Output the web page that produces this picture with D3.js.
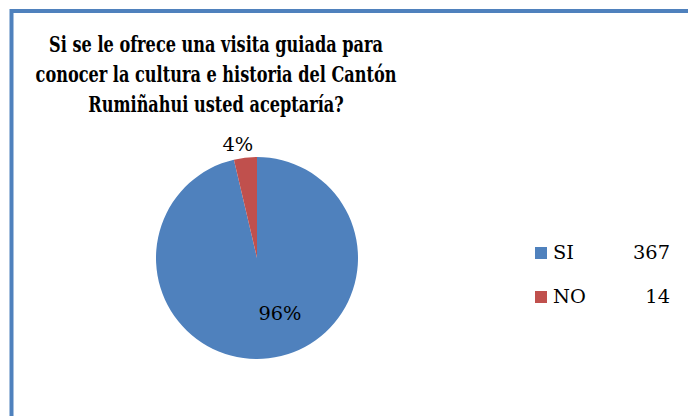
<!DOCTYPE html>
<html lang="es">
<head>
    <meta charset="UTF-8">
    <title>Visita guiada</title>
    <style>
        body {
            margin: 0;
            overflow: hidden;
            background: white;
        }
        text {
            font-family: 'DejaVu Serif', 'Liberation Serif', serif;
        }
    </style>
    <script src="https://d3js.org/d3.v7.min.js"></script>
</head>
<body>
    <div id="chart"></div>
    <script>
        const categories = ["SI", "NO"];
        const values = [367, 14];
        const percentLabels = ["96%", "4%"];
        const colors = ["#4F81BD", "#C0504D"];
        const titleLines = [
            "Si se le ofrece una visita guiada para",
            "conocer la cultura e historia del Cantón",
            "Rumiñahui usted aceptaría?"
        ];

        const width = 688, height = 416;
        const cx = 257, cy = 258, radius = 101;

        const svg = d3.select("#chart")
            .append("svg")
            .attr("width", width)
            .attr("height", height);

        // borde azul (solo arriba e izquierda visibles)
        svg.append("rect")
            .attr("x", 11.5)
            .attr("y", 11)
            .attr("width", width + 20)
            .attr("height", height + 20)
            .attr("fill", "white")
            .attr("stroke", "#4F81BD")
            .attr("stroke-width", 4);

        const tituloG = svg.append("g");

        const titulo = tituloG.selectAll(".titulo")
            .data(titleLines)
            .enter()
            .append("text")
            .attr("class", "titulo")
            .attr("x", 0)
            .attr("y", (d, i) => 52 + i * 30)
            .attr("text-anchor", "middle")
            .attr("font-weight", "bold")
            .attr("font-size", "23px")
            .attr("fill", "black")
            .text(d => d);

        // comprimir en horizontal para que la segunda línea mida ~361px
        const w2 = titulo.nodes()[1].getComputedTextLength();
        tituloG.attr("transform", `translate(216,0) scale(${361 / w2},1)`);

        const pie = d3.pie().sort(null).value(d => d);
        const arcs = pie(values);
        const arc = d3.arc().innerRadius(0).outerRadius(radius);

        const g = svg.append("g")
            .attr("transform", `translate(${cx},${cy})`);

        g.selectAll(".slice")
            .data(arcs)
            .enter()
            .append("path")
            .attr("class", "slice")
            .attr("d", arc)
            .attr("fill", (d, i) => colors[i]);

        // etiquetas: dentro para SI, fuera para NO
        const insideArc = d3.arc().innerRadius(radius * 0.6).outerRadius(radius * 0.6);
        const outsideArc = d3.arc().innerRadius(radius + 14).outerRadius(radius + 14);

        const etiquetas = g.selectAll(".etiqueta")
            .data(arcs)
            .enter()
            .append("text")
            .attr("class", "etiqueta")
            .attr("transform", (d, i) => {
                const c = i === 0 ? insideArc.centroid(d) : outsideArc.centroid(d);
                return `translate(${c[0] + (i === 0 ? 16 : -6)},${c[1] + (i === 0 ? -5 : 0)})`;
            })
            .attr("text-anchor", "middle")
            .attr("dy", "0.35em")
            .attr("font-size", "20px")
            .attr("fill", "black")
            .text((d, i) => percentLabels[i]);

        const legend = svg.selectAll(".leyenda")
            .data(categories)
            .enter()
            .append("g")
            .attr("class", "leyenda")
            .attr("transform", (d, i) => `translate(535,${247 + i * 44})`);

        legend.append("rect")
            .attr("width", 12)
            .attr("height", 12)
            .attr("fill", (d, i) => colors[i]);

        const nombres = legend.append("text")
            .attr("x", 18)
            .attr("y", 12)
            .attr("font-size", "20px")
            .attr("fill", "black")
            .text(d => d);

        const numeros = legend.append("text")
            .attr("x", 135)
            .attr("y", 12)
            .attr("text-anchor", "end")
            .attr("font-size", "20px")
            .attr("fill", "black")
            .text((d, i) => values[i]);

        // "367" mide ~37px en el original
        const wn = numeros.nodes()[0].getComputedTextLength();
        const fs = 20 * 37 / wn;
        nombres.attr("font-size", fs + "px");
        numeros.attr("font-size", fs + "px");
        etiquetas.attr("font-size", fs + "px");
    </script>
</body>
</html>
